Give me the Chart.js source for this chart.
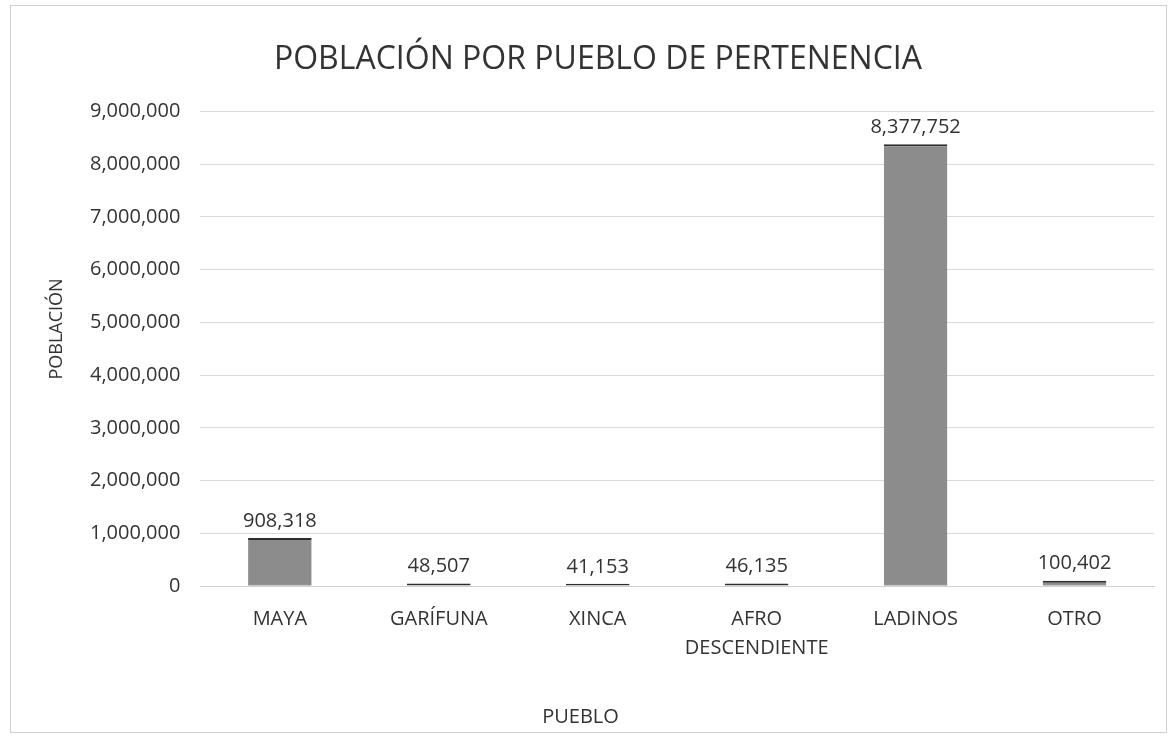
<!DOCTYPE html>
<html>
<head>
<meta charset="utf-8">
<script src="https://cdn.jsdelivr.net/npm/chart.js@4"></script>
<style>
  html, body { margin: 0; padding: 0; background: #fff; }
  #frame { position: absolute; left: 10px; top: 5px; width: 1155px; height: 726px; border: 1px solid #d0d0d0; }
  #wrap { position: absolute; left: 0; top: 0; width: 1175px; height: 736px; }
</style>
</head>
<body>
<div id="frame"></div>
<div id="wrap"><canvas id="pueblo_chart" width="1175" height="736"></canvas></div>
<script>
const pueblos = ['MAYA', 'GARÍFUNA', 'XINCA', ['AFRO', 'DESCENDIENTE'], 'LADINOS', 'OTRO'];
const poblacion = [908318, 48507, 41153, 46135, 8377752, 100402];
const yTicks = [0, 1000000, 2000000, 3000000, 4000000, 5000000, 6000000, 7000000, 8000000, 9000000];

const FONT = 'Open Sans';
const TXT = '#333333';
const fmt = v => v.toLocaleString('en-US');

// etiquetas encima de cada barra
const barLabels = {
  id: 'barLabels',
  afterDatasetsDraw(chart) {
    const ctx = chart.ctx;
    const meta = chart.getDatasetMeta(0);
    ctx.save();
    ctx.font = '20px "' + FONT + '"';
    ctx.fillStyle = TXT;
    ctx.textAlign = 'center';
    ctx.textBaseline = 'bottom';
    meta.data.forEach((bar, i) => {
      ctx.fillText(fmt(poblacion[i]), bar.x, bar.y - 7);
    });
    ctx.restore();
  }
};

// titulos de ejes, centrados como en Excel (no sobre el area del grafico)
const axisTitles = {
  id: 'axisTitles',
  afterDraw(chart) {
    const ctx = chart.ctx;
    ctx.save();
    ctx.fillStyle = TXT;
    ctx.textAlign = 'center';
    ctx.textBaseline = 'middle';
    ctx.font = '20px "' + FONT + '"';
    ctx.fillText('PUEBLO', chart.width / 2 - 7, 717);
    ctx.translate(57, 329);
    ctx.rotate(-Math.PI / 2);
    ctx.font = '18px "' + FONT + '"';
    ctx.fillText('POBLACIÓN', 0, 0);
    ctx.restore();
  }
};

const cvas = document.getElementById('pueblo_chart');
const ctz = cvas.getContext('2d');

new Chart(ctz, {
  type: 'bar',
  data: {
    labels: pueblos,
    datasets: [{
      label: 'Población',
      data: poblacion,
      backgroundColor: '#8c8c8c',
      borderColor: '#2e2e2e',
      borderWidth: { top: 2, bottom: 1, left: 0, right: 0 },
      borderSkipped: false,
      categoryPercentage: 1.0,
      barPercentage: 0.4
    }]
  },
  options: {
    responsive: false,
    animation: false,
    layout: { padding: { left: 42, right: 21, top: 0, bottom: 54 } },
    plugins: {
      legend: { display: false },
      tooltip: { enabled: false },
      title: {
        display: true,
        text: 'POBLACIÓN POR PUEBLO DE PERTENENCIA',
        color: TXT,
        font: { size: 32, family: FONT, weight: 'normal' },
        padding: { top: 41, bottom: 32 }
      }
    },
    scales: {
      x: {
        grid: { display: false, drawTicks: false },
        border: { color: '#d0d0d0' },
        ticks: { color: TXT, font: { size: 20, family: FONT, lineHeight: 1.45 }, padding: 19, maxRotation: 0 }
      },
      y: {
        min: 0,
        max: 9000000,
        afterBuildTicks: axis => { axis.ticks = yTicks.map(v => ({ value: v })); },
        afterFit: axis => { axis.width += 28; },   // hueco para el titulo del eje
        grid: { color: '#d9d9d9', drawTicks: false },
        border: { display: false },
        ticks: { color: TXT, font: { size: 20, family: FONT }, padding: 20, callback: v => fmt(v) }
      }
    }
  },
  plugins: [barLabels, axisTitles]
});
</script>
</body>
</html>
